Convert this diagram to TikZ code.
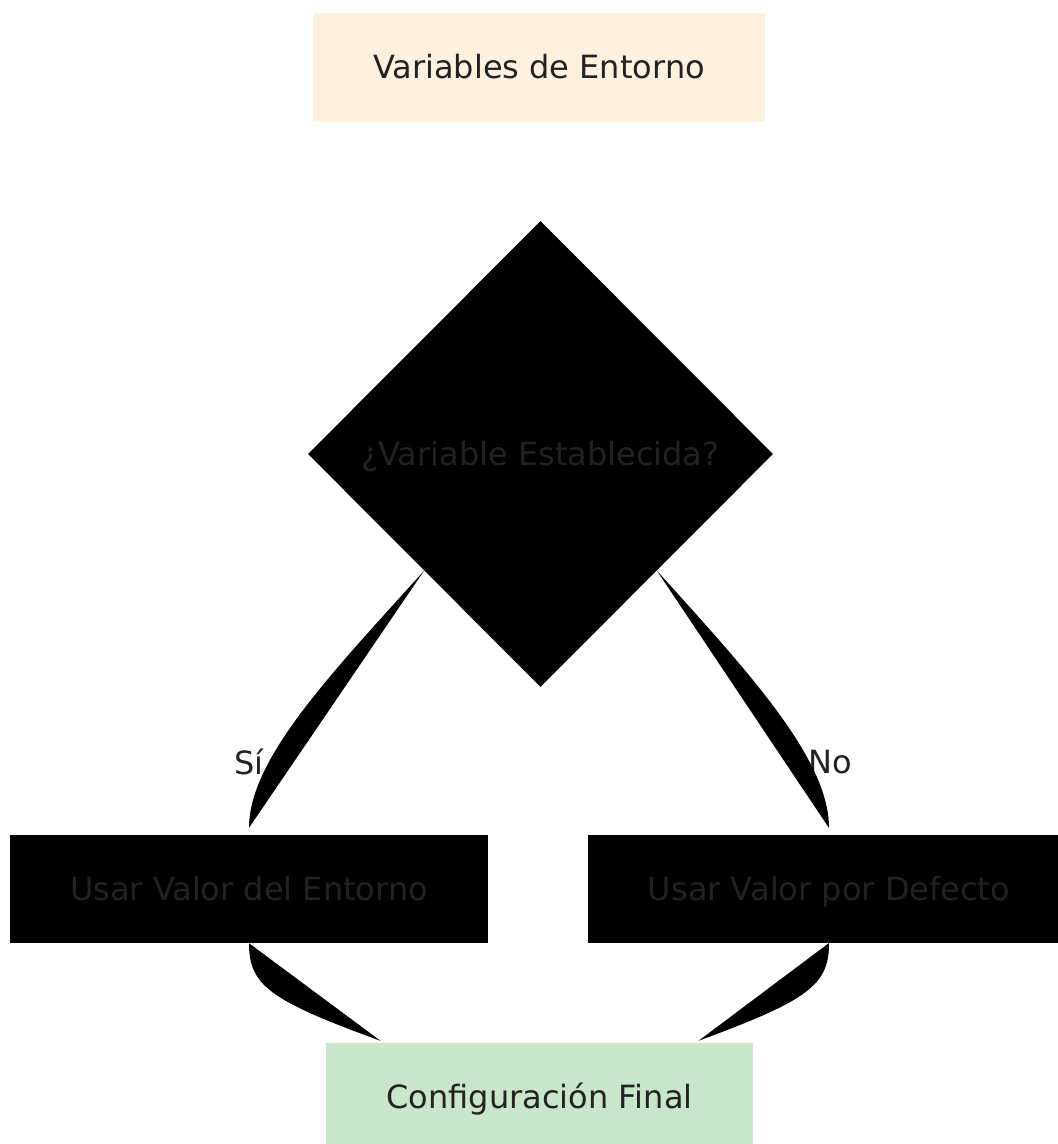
\documentclass[tikz,border=0pt]{standalone}
\usepackage{fontspec}
\setmainfont{DejaVu Sans}
\usetikzlibrary{shapes.geometric,calc}
\definecolor{txt}{HTML}{222222}
\definecolor{envfill}{HTML}{FFF1DE}
\definecolor{finfill}{HTML}{C8E6C9}
\tikzset{
  lbl/.style={font=\fontsize{32}{37}\selectfont, text=txt},
  box/.style={lbl, rectangle, inner sep=0pt, anchor=center, text height=30pt, text depth=8pt},
  conn/.style={fill=black, draw=none},
}
\begin{document}
\begin{tikzpicture}[x=1pt,y=-1pt]
\useasboundingbox (0,0) rectangle (1058,1144);
\clip (0,0) rectangle (1058,1144);
% nodes
\node[box, fill=envfill, minimum width=452, minimum height=109] (env) at (539,67.5) {Variables de Entorno};
\node[lbl, diamond, aspect=1, fill=black, inner sep=0pt, text height=30pt, text depth=8pt, minimum width=465, minimum height=466] (dec) at (540.5,454) {¿Variable Establecida?};
\node[box, fill=black, minimum width=478, minimum height=108] (use) at (249,889) {Usar Valor del Entorno};
\node[box, fill=black, minimum width=470, minimum height=108] (def) at (823,889) {\hspace*{12pt}Usar Valor por Defecto};
\node[box, fill=finfill, minimum width=427, minimum height=108] (fin) at (539.5,1097) {Configuración Final};
% edge labels (drawn under connectors)
\node[lbl] (si) at (249,762) {Sí};
\node[lbl] (no) at (830,762) {No};
% connector end points
\coordinate (a1) at ($(dec.west)!0.5!(dec.south)$);
\coordinate (a2) at ($(use.north)+(0,-7)$);
\coordinate (b1) at ($(dec.east)!0.5!(dec.south)$);
\coordinate (b2) at (829,828);
\coordinate (c1) at (use.south);
\coordinate (c2) at ($(fin.north)+(-159,-2)$);
\coordinate (d1) at (829,943);
\coordinate (d2) at ($(fin.north)+(159,-2)$);
% connectors (filled curves)
\fill[conn] (a1) .. controls ($(a1)+(-90,100)$) and ($(a2)+(0,-70)$) .. (a2) -- cycle;
\fill[conn] (b1) .. controls ($(b1)+(90,100)$) and ($(b2)+(0,-70)$) .. (b2) -- cycle;
\fill[conn] (c1) .. controls ($(c1)+(0,42)$) and ($(c1)+(20,57)$) .. (c2) -- cycle;
\fill[conn] (d1) .. controls ($(d1)+(0,42)$) and ($(d1)+(-20,57)$) .. (d2) -- cycle;
\end{tikzpicture}
\end{document}
